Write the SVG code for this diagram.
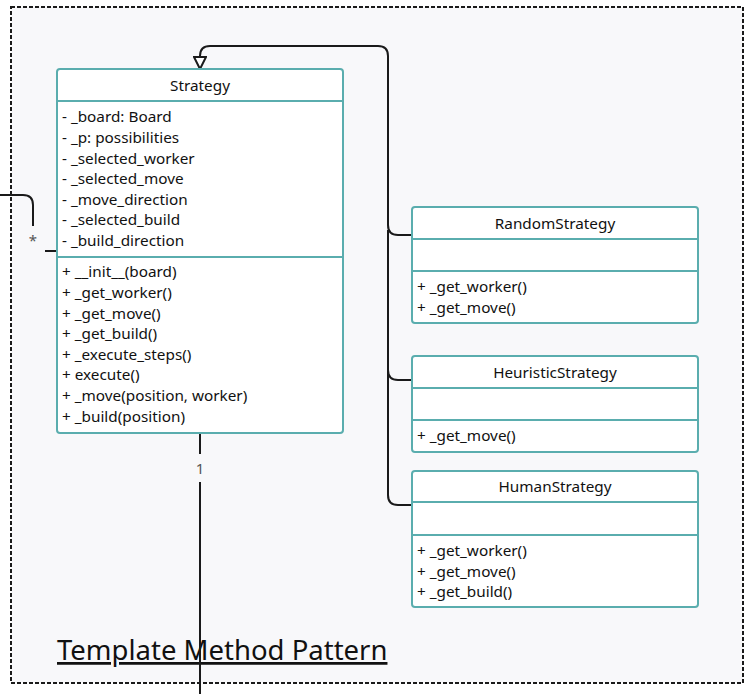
<svg xmlns="http://www.w3.org/2000/svg" width="754" height="694" viewBox="0 0 754 694">
<style>
.frame{fill:#f8f8fa;stroke:#1a1a1a;stroke-width:2;stroke-dasharray:4 2}
.box{fill:#ffffff;stroke:#5aadae;stroke-width:2}
.sep{stroke:#5aadae;stroke-width:2}
.t{font-family:"Noto Sans","Open Sans","DejaVu Sans",sans-serif;font-size:15.3px;fill:#111111}
.c{text-anchor:middle}
.edge{fill:none;stroke:#1a1a1a;stroke-width:2}
.lbl{font-family:"Noto Sans","Open Sans","DejaVu Sans",sans-serif;font-size:15px;fill:#555555;text-anchor:middle}
.title{font-family:"Noto Sans","Open Sans","DejaVu Sans",sans-serif;font-size:27.5px;fill:#111111;text-decoration:underline}
</style>
<defs>
<marker id="inh" viewBox="0 0 14 14" markerWidth="14" markerHeight="14" refX="13" refY="7" orient="auto" markerUnits="userSpaceOnUse">
<path d="M1,1 L13,7 L1,13 Z" fill="#ffffff" stroke="#1a1a1a" stroke-width="2"/>
</marker>
</defs>
<rect x="0" y="0" width="754" height="694" fill="#ffffff"/>
<rect class="frame" x="11" y="7" width="732" height="676"/>
<text class="title" x="57" y="660">Template Method Pattern</text>

<g id="connectors">
<path class="edge" d="M412,235 H398 Q388,235 388,225 V56 Q388,46 378,46 H210 Q200,46 200,56 V69" marker-end="url(#inh)"/>
<path class="edge" d="M412,380 H398 Q388,380 388,370 V230"/>
<path class="edge" d="M412,505 H398 Q388,505 388,495 V370"/>
<path class="edge" d="M0,195 H23 Q33,195 33,205 V226"/>
<path class="edge" d="M45,251 H57"/>
<text class="lbl" x="33" y="246">*</text>
<path class="edge" d="M200,433 V454"/>
<path class="edge" d="M200,482 V694"/>
<text class="lbl" x="200" y="474">1</text>
</g>

<g id="Strategy">
<rect class="box" x="57" y="69" width="286" height="364" rx="3"/>
<line class="sep" x1="57" y1="101" x2="343" y2="101"/>
<line class="sep" x1="57" y1="257" x2="343" y2="257"/>
<text class="t c" x="200" y="91">Strategy</text>
<text class="t" x="62" y="122">- _board: Board</text>
<text class="t" x="62" y="143">- _p: possibilities</text>
<text class="t" x="62" y="164">- _selected_worker</text>
<text class="t" x="62" y="184">- _selected_move</text>
<text class="t" x="62" y="205">- _move_direction</text>
<text class="t" x="62" y="225">- _selected_build</text>
<text class="t" x="62" y="246">- _build_direction</text>
<text class="t" x="62" y="277">+ __init__(board)</text>
<text class="t" x="62" y="298">+ _get_worker()</text>
<text class="t" x="62" y="319">+ _get_move()</text>
<text class="t" x="62" y="339">+ _get_build()</text>
<text class="t" x="62" y="360">+ _execute_steps()</text>
<text class="t" x="62" y="380">+ execute()</text>
<text class="t" x="62" y="401">+ _move(position, worker)</text>
<text class="t" x="62" y="422">+ _build(position)</text>
</g>

<g id="RandomStrategy">
<rect class="box" x="412" y="207" width="286" height="116" rx="3"/>
<line class="sep" x1="412" y1="239" x2="698" y2="239"/>
<line class="sep" x1="412" y1="271" x2="698" y2="271"/>
<text class="t c" x="555" y="229">RandomStrategy</text>
<text class="t" x="417" y="292">+ _get_worker()</text>
<text class="t" x="417" y="313">+ _get_move()</text>
</g>

<g id="HeuristicStrategy">
<rect class="box" x="412" y="356" width="286" height="96" rx="3"/>
<line class="sep" x1="412" y1="388" x2="698" y2="388"/>
<line class="sep" x1="412" y1="420" x2="698" y2="420"/>
<text class="t c" x="555" y="378">HeuristicStrategy</text>
<text class="t" x="417" y="441">+ _get_move()</text>
</g>

<g id="HumanStrategy">
<rect class="box" x="412" y="471" width="286" height="136" rx="3"/>
<line class="sep" x1="412" y1="502" x2="698" y2="502"/>
<line class="sep" x1="412" y1="535" x2="698" y2="535"/>
<text class="t c" x="555" y="492">HumanStrategy</text>
<text class="t" x="417" y="556">+ _get_worker()</text>
<text class="t" x="417" y="577">+ _get_move()</text>
<text class="t" x="417" y="597">+ _get_build()</text>
</g>
</svg>
